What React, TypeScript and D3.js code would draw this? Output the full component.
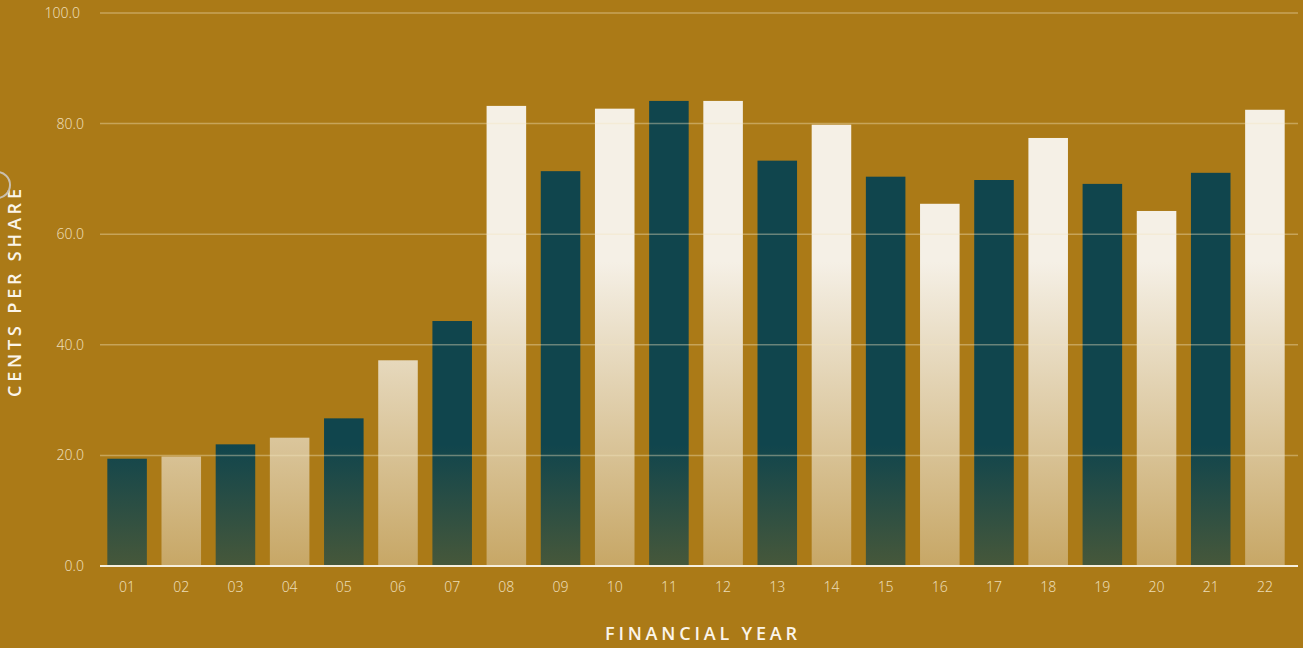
import React from "react";
import { scaleBand, scaleLinear } from "d3";

const years = ["01", "02", "03", "04", "05", "06", "07", "08", "09", "10", "11", "12", "13", "14", "15", "16", "17", "18", "19", "20", "21", "22"];
const cents = [19.4, 19.8, 22.0, 23.2, 26.7, 37.2, 44.3, 83.2, 71.4, 82.7, 84.1, 84.1, 73.3, 79.8, 70.4, 65.5, 69.8, 77.4, 69.1, 64.2, 71.1, 82.5];
// which bars are cream (the rest are teal)
const light = [false, true, false, true, false, true, false, true, false, true, false, true, false, true, false, true, false, true, false, true, false, true];
const yTicks = [0, 20, 40, 60, 80, 100];

const W = 1303;
const H = 648;
const margin = { top: 13, right: 11, bottom: 82, left: 100 };

const BG = "#ab7a17";
const TEAL = "#10454d";
const CREAM = "#f5f0e6";
const TEXT = "#ecdcb4";

export default function App() {
  const x = scaleBand<string>()
    .domain(years)
    .range([margin.left, 1292])
    .paddingInner(0.27)
    .paddingOuter(0.135);
  const y = scaleLinear()
    .domain([0, 100])
    .range([H - margin.bottom, margin.top]);

  const font = "'Noto Sans', 'Open Sans', sans-serif";
  const titleFont = "'Open Sans', 'Noto Sans', sans-serif";

  return (
    <svg
      width={W}
      height={H}
      style={{ position: "absolute", left: 0, top: 0, display: "block" }}
    >
      <defs>
        <linearGradient
          id="gDark"
          gradientUnits="userSpaceOnUse"
          x1={0}
          x2={0}
          y1={y(0)}
          y2={y(22)}
        >
          <stop offset="0" stopColor={TEAL} stopOpacity={0.65} />
          <stop offset="1" stopColor={TEAL} stopOpacity={1} />
        </linearGradient>
        <linearGradient
          id="gLight"
          gradientUnits="userSpaceOnUse"
          x1={0}
          x2={0}
          y1={y(0)}
          y2={y(55)}
        >
          <stop offset="0" stopColor={CREAM} stopOpacity={0.38} />
          <stop offset="1" stopColor={CREAM} stopOpacity={1} />
        </linearGradient>
      </defs>
      <rect x={0} y={0} width={W} height={H} fill={BG} />

      {/* bars */}
      {years.map((yr, i) => (
        <rect
          key={yr}
          x={x(yr)}
          y={y(cents[i])}
          width={x.bandwidth()}
          height={y(0) - y(cents[i])}
          fill={light[i] ? "url(#gLight)" : "url(#gDark)"}
        />
      ))}

      {/* grid lines drawn over bars */}
      {yTicks.filter((t) => t > 0).map((t) => (
        <line
          key={t}
          x1={margin.left}
          x2={1298}
          y1={y(t)}
          y2={y(t)}
          stroke="#f3e3bd"
          strokeOpacity={0.4}
          strokeWidth={1.5}
        />
      ))}
      <line
        x1={margin.left}
        x2={1298}
        y1={y(0)}
        y2={y(0)}
        stroke="#f6eedc"
        strokeWidth={2}
      />

      {/* y tick labels */}
      {yTicks.map((t) => (
        <text
          key={t}
          x={t === 100 ? 80 : 84}
          y={y(t)}
          dy="0.35em"
          textAnchor="end"
          fontFamily={font}
          fontWeight={300}
          fontSize={14}
          fill={TEXT}
        >
          {t.toFixed(1)}
        </text>
      ))}

      {/* x tick labels */}
      {years.map((yr) => (
        <text
          key={yr}
          x={(x(yr) ?? 0) + x.bandwidth() / 2}
          y={592}
          textAnchor="middle"
          fontFamily={font}
          fontWeight={300}
          fontSize={14}
          fill={TEXT}
        >
          {yr}
        </text>
      ))}

      {/* axis titles */}
      <text
        transform={`translate(21,${293}) rotate(-90)`}
        textAnchor="middle"
        fontFamily={titleFont}
        fontWeight={600}
        fontSize={18}
        textLength={208}
        lengthAdjust="spacing"
        fill="#fbf5ea"
      >
        CENTS PER SHARE
      </text>
      <text
        x={701}
        y={640}
        textAnchor="middle"
        fontFamily={titleFont}
        fontWeight={600}
        fontSize={18}
        textLength={192}
        lengthAdjust="spacing"
        fill="#fbf5ea"
      >
        FINANCIAL YEAR
      </text>

      {/* partially hidden control at the left edge */}
      <circle cx={-3} cy={185} r={13} fill="none" stroke="#c9bfae" strokeWidth={2} />
    </svg>
  );
}
